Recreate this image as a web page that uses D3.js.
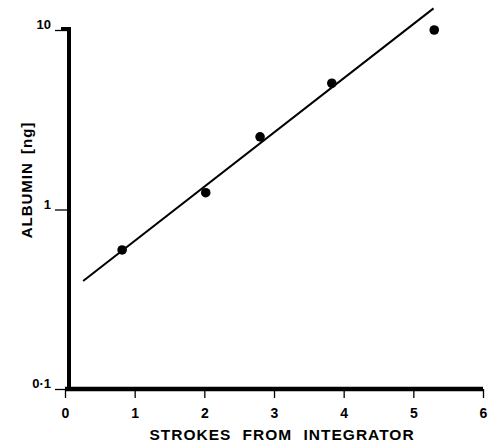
<!DOCTYPE html>
<html>
<head>
<meta charset="utf-8">
<script src="https://cdn.jsdelivr.net/npm/d3@7"></script>
<style>
  body { margin: 0; background: #fff; }
  text { font-family: "Liberation Sans", Arial, sans-serif; font-weight: bold; fill: #000; }
</style>
</head>
<body>
<div id="chart"></div>
<script>
var svgWidth = 495;
var svgHeight = 448;

// data
var strokes = [0.82, 2.02, 2.80, 3.83, 5.30];
var albumin = [0.595, 1.24, 2.54, 5.05, 10.0];
var fitX = [0.26, 5.29];
var fitY = [0.40, 13.2];
var xTicks = [0, 1, 2, 3, 4, 5, 6];
var yTicks = [0.1, 1, 10];
var yTickLabels = ["0\u00b71", "1", "10"];

var svg = d3.select("#chart").append("svg")
  .attr("width", svgWidth)
  .attr("height", svgHeight);

var x = d3.scaleLinear().domain([0, 6]).range([65, 483]);
var y = d3.scaleLog().domain([0.1, 10]).range([389, 30]);

// x axis
var xAxis = svg.append("g")
  .attr("transform", `translate(0, ${y(0.1)})`)
  .call(d3.axisBottom(x).tickValues(xTicks).tickSize(9).tickPadding(10).tickFormat(d3.format("d")));
xAxis.select(".domain").remove();
xAxis.selectAll(".tick line").attr("stroke-width", 1.3);
xAxis.selectAll(".tick text")
  .style("font-size", "14px")
  .style("font-weight", "bold");

// y axis
var yAxis = svg.append("g")
  .attr("transform", `translate(${x(0) + 3}, 0)`)
  .call(d3.axisLeft(y).tickValues(yTicks).tickSize(13).tickPadding(4)
    .tickFormat((d, i) => yTickLabels[i]));
yAxis.select(".domain").remove();
yAxis.selectAll(".tick line").attr("stroke-width", 1.3);
yAxis.selectAll(".tick text")
  .style("font-size", "13px")
  .style("font-weight", "bold")
  .attr("dy", "-0.1em");

// heavy axis lines
svg.append("line")
  .attr("x1", x(0)).attr("x2", x(6))
  .attr("y1", y(0.1)).attr("y2", y(0.1))
  .attr("stroke", "#000").attr("stroke-width", 4.5);

svg.append("path")
  .attr("d", `M${x(0) - 4},${y(10) - 1} H${x(0) + 4} V${y(0.1)}`)
  .attr("fill", "none")
  .attr("stroke", "#000").attr("stroke-width", 4);

// fitted line
svg.append("line")
  .attr("x1", x(fitX[0])).attr("y1", y(fitY[0]))
  .attr("x2", x(fitX[1])).attr("y2", y(fitY[1]))
  .attr("stroke", "#000").attr("stroke-width", 2);

// points
svg.selectAll("circle.pt")
  .data(strokes)
  .enter()
  .append("circle")
  .attr("class", "pt")
  .attr("cx", d => x(d))
  .attr("cy", (d, i) => y(albumin[i]))
  .attr("r", 4.8)
  .attr("fill", "#000");

// axis titles
svg.append("text")
  .attr("x", 282).attr("y", 440)
  .attr("text-anchor", "middle")
  .style("font-size", "15.5px")
  .attr("letter-spacing", 1)
  .attr("word-spacing", 6)
  .text("STROKES FROM INTEGRATOR");

svg.append("text")
  .attr("transform", "translate(32, 180) rotate(-90)")
  .attr("text-anchor", "middle")
  .style("font-size", "15px")
  .attr("letter-spacing", 1)
  .attr("word-spacing", 3)
  .text("ALBUMIN [ng]");
</script>
</body>
</html>
